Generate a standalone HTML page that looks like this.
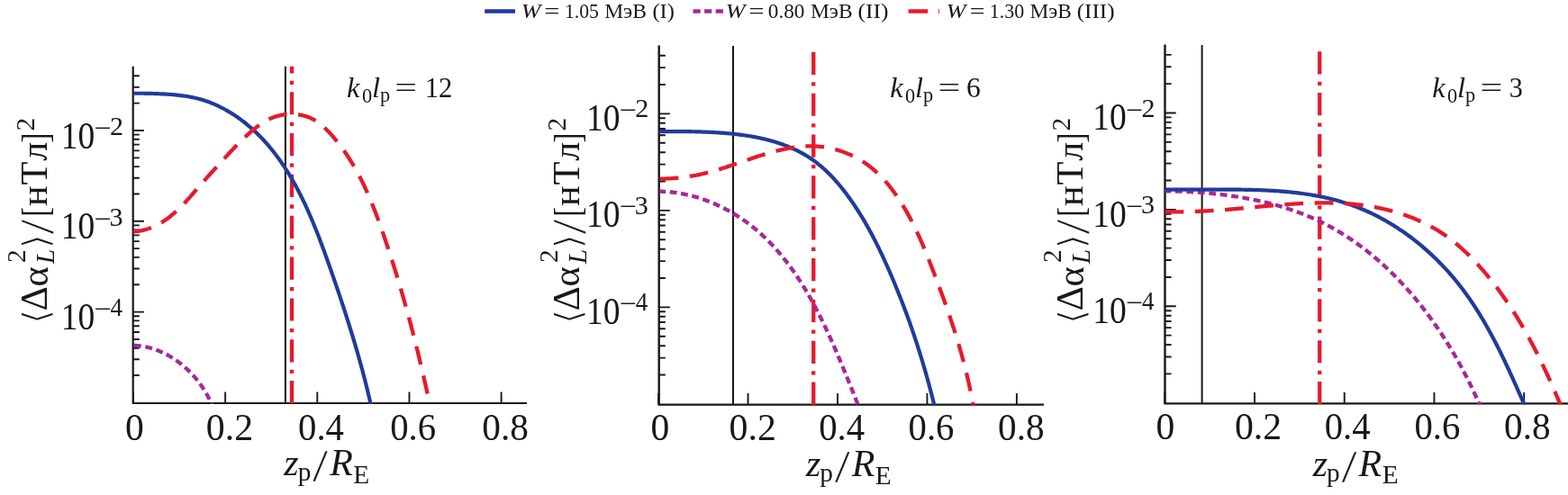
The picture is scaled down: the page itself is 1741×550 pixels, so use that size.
<!DOCTYPE html>
<html lang="ru"><head><meta charset="utf-8"><title>Figure</title>
<style>
html,body{margin:0;padding:0;background:#fff;}
body{width:1741px;height:550px;overflow:hidden;}
svg{display:block;}
text{font-family:"Liberation Serif", "DejaVu Serif", serif;fill:#1a1718;}
</style></head><body>
<svg width="1741" height="550" viewBox="0 0 1741 550">
<rect x="0" y="0" width="1741" height="550" fill="#fff"/>

<g id="legend">
<line x1="538.2" y1="12.5" x2="572" y2="12.5" stroke="#213b9b" stroke-width="4.5"/>
<line x1="769.5" y1="12.5" x2="803" y2="12.5" stroke="#a6289b" stroke-width="4.5" stroke-dasharray="8.2 4.4"/>
<line x1="1008.6" y1="12.5" x2="1030.1" y2="12.5" stroke="#e8192c" stroke-width="4.5"/>
<line x1="1042.5" y1="10" x2="1042.5" y2="15" stroke="#e8192c" stroke-width="0.9"/>
<text><tspan x="578.67" y="20.00" style="font-size:23.80px;font-style:italic;" textLength="21.71" lengthAdjust="spacingAndGlyphs">W</tspan> <tspan x="604.38" y="20.00" style="font-size:23.80px;" textLength="17.08" lengthAdjust="spacingAndGlyphs">=</tspan> <tspan x="626.90" y="20.00" style="font-size:23.80px;" textLength="37.97" lengthAdjust="spacingAndGlyphs">1.05</tspan> <tspan x="671.13" y="20.00" style="font-size:23.80px;" textLength="46.86" lengthAdjust="spacingAndGlyphs">МэВ</tspan> <tspan x="724.44" y="20.00" style="font-size:23.80px;" textLength="24.45" lengthAdjust="spacingAndGlyphs">(I)</tspan></text>
<text><tspan x="805.77" y="20.00" style="font-size:23.80px;font-style:italic;" textLength="21.71" lengthAdjust="spacingAndGlyphs">W</tspan> <tspan x="831.58" y="20.00" style="font-size:23.80px;" textLength="17.08" lengthAdjust="spacingAndGlyphs">=</tspan> <tspan x="852.77" y="20.00" style="font-size:23.80px;" textLength="40.65" lengthAdjust="spacingAndGlyphs">0.80</tspan> <tspan x="899.93" y="20.00" style="font-size:23.80px;" textLength="46.76" lengthAdjust="spacingAndGlyphs">МэВ</tspan> <tspan x="952.50" y="20.00" style="font-size:23.80px;" textLength="33.92" lengthAdjust="spacingAndGlyphs">(II)</tspan></text>
<text><tspan x="1050.77" y="20.00" style="font-size:23.80px;font-style:italic;" textLength="21.71" lengthAdjust="spacingAndGlyphs">W</tspan> <tspan x="1076.71" y="20.00" style="font-size:23.80px;" textLength="16.72" lengthAdjust="spacingAndGlyphs">=</tspan> <tspan x="1098.79" y="20.00" style="font-size:23.80px;" textLength="38.40" lengthAdjust="spacingAndGlyphs">1.30</tspan> <tspan x="1143.43" y="20.00" style="font-size:23.80px;" textLength="46.45" lengthAdjust="spacingAndGlyphs">МэВ</tspan> <tspan x="1195.71" y="20.00" style="font-size:23.80px;" textLength="41.90" lengthAdjust="spacingAndGlyphs">(III)</tspan></text>
</g>
<g id="panel1">
<defs><clipPath id="clip0"><rect x="144.7" y="73.80" width="443.30" height="375.30"/></clipPath></defs>
<path d="M147.7,73.8 V448.0 H585.0" fill="none" stroke="#1a1718" stroke-width="2.2" stroke-linecap="butt" stroke-linejoin="miter"/>
<path d="M148.00,448.0 v-12.5 M250.15,448.0 v-12.5 M352.30,448.0 v-12.5 M454.45,448.0 v-12.5 M556.60,448.0 v-12.5 M147.7,417.06 h7.1 M147.7,399.31 h7.1 M147.7,386.71 h7.1 M147.7,376.94 h7.1 M147.7,368.96 h7.1 M147.7,362.21 h7.1 M147.7,356.37 h7.1 M147.7,351.21 h7.1 M147.7,346.60 h12.2 M147.7,316.26 h7.1 M147.7,298.51 h7.1 M147.7,285.91 h7.1 M147.7,276.14 h7.1 M147.7,268.16 h7.1 M147.7,261.41 h7.1 M147.7,255.57 h7.1 M147.7,250.41 h7.1 M147.7,245.80 h12.2 M147.7,215.46 h7.1 M147.7,197.71 h7.1 M147.7,185.11 h7.1 M147.7,175.34 h7.1 M147.7,167.36 h7.1 M147.7,160.61 h7.1 M147.7,154.77 h7.1 M147.7,149.61 h7.1 M147.7,145.00 h12.2 M147.7,114.66 h7.1 M147.7,96.91 h7.1 M147.7,84.31 h7.1" fill="none" stroke="#1a1718" stroke-width="1.9"/>
<line x1="316.9" y1="73.8" x2="316.9" y2="448.0" stroke="#1a1718" stroke-width="2"/>
<g clip-path="url(#clip0)" fill="none" stroke-linejoin="round">
<line x1="324.0" y1="56.3" x2="324.0" y2="451.0" stroke="#e8192c" stroke-width="4.3" stroke-dasharray="25.2 8.3 4.3 8.05"/>
<path d="M148.00,383.88 L148.37,383.89 L148.74,383.90 L149.11,383.91 L149.48,383.93 L149.84,383.94 L150.21,383.96 L150.58,383.98 L150.95,384.00 L151.31,384.02 L151.68,384.05 L152.05,384.07 L152.42,384.10 L152.78,384.13 L153.15,384.16 L153.52,384.19 L153.88,384.23 L154.25,384.27 L154.62,384.30 L154.98,384.34 L155.35,384.39 L155.72,384.43 L156.08,384.48 L156.45,384.52 L156.81,384.57 L157.18,384.62 L157.54,384.68 L157.91,384.73 L158.27,384.79 L158.63,384.84 L159.00,384.90 L159.36,384.96 L159.73,385.03 L160.09,385.09 L160.45,385.16 L160.81,385.23 L161.18,385.30 L161.54,385.37 L161.90,385.44 L162.26,385.52 L162.62,385.60 L162.98,385.67 L163.34,385.75 L163.70,385.84 L164.06,385.92 L164.42,386.01 L164.78,386.09 L165.14,386.18 L165.50,386.27 L165.86,386.37 L166.22,386.46 L166.57,386.55 L166.93,386.65 L167.29,386.75 L167.65,386.85 L168.00,386.95 L168.36,387.06 L168.71,387.16 L169.07,387.27 L169.42,387.38 L169.78,387.49 L170.13,387.60 L170.48,387.72 L170.84,387.83 L171.19,387.95 L171.54,388.07 L171.90,388.19 L172.25,388.31 L172.60,388.43 L172.95,388.56 L173.30,388.68 L173.65,388.81 L174.00,388.94 L174.35,389.07 L174.70,389.20 L175.04,389.34 L175.39,389.47 L175.74,389.61 L176.09,389.75 L176.43,389.89 L176.78,390.03 L177.12,390.17 L177.47,390.32 L177.81,390.46 L178.16,390.61 L178.50,390.76 L178.84,390.91 L179.19,391.06 L179.53,391.21 L179.87,391.37 L180.21,391.53 L180.55,391.68 L180.89,391.84 L181.23,392.00 L181.57,392.17 L181.91,392.33 L182.25,392.49 L182.59,392.66 L182.92,392.83 L183.26,393.00 L183.59,393.17 L183.93,393.34 L184.27,393.51 L184.60,393.69 L184.93,393.86 L185.27,394.04 L185.60,394.22 L185.93,394.40 L186.26,394.58 L186.59,394.76 L186.92,394.95 L187.25,395.13 L187.58,395.32 L187.91,395.51 L188.24,395.70 L188.57,395.89 L188.89,396.08 L189.22,396.28 L189.54,396.47 L189.87,396.67 L190.19,396.86 L190.52,397.06 L190.84,397.26 L191.16,397.46 L191.48,397.66 L191.81,397.87 L192.13,398.07 L192.45,398.28 L192.76,398.49 L193.08,398.70 L193.40,398.91 L193.72,399.12 L194.03,399.33 L194.35,399.54 L194.67,399.76 L194.98,399.97 L195.29,400.19 L195.61,400.41 L195.92,400.63 L196.23,400.85 L196.54,401.07 L196.85,401.29 L197.16,401.52 L197.47,401.74 L197.78,401.97 L198.09,402.20 L198.39,402.43 L198.70,402.66 L199.00,402.89 L199.31,403.12 L199.61,403.35 L199.91,403.59 L200.22,403.82 L200.52,404.06 L200.82,404.30 L201.12,404.53 L201.42,404.77 L201.72,405.02 L202.01,405.26 L202.31,405.50 L202.61,405.75 L202.90,405.99 L203.20,406.24 L203.49,406.48 L203.78,406.73 L204.07,406.98 L204.37,407.23 L204.66,407.48 L204.95,407.74 L205.23,407.99 L205.52,408.24 L205.81,408.50 L206.10,408.76 L206.38,409.01 L206.67,409.27 L206.95,409.53 L207.23,409.79 L207.52,410.05 L207.80,410.32 L208.08,410.58 L208.36,410.84 L208.63,411.11 L208.91,411.38 L209.19,411.64 L209.47,411.91 L209.74,412.18 L210.01,412.45 L210.29,412.72 L210.56,412.99 L210.83,413.27 L211.10,413.54 L211.37,413.81 L211.64,414.09 L211.91,414.37 L212.18,414.64 L212.44,414.92 L212.71,415.20 L212.97,415.48 L213.23,415.76 L213.50,416.04 L213.76,416.32 L214.02,416.61 L214.28,416.89 L214.54,417.18 L214.79,417.46 L215.05,417.75 L215.31,418.03 L215.56,418.32 L215.81,418.61 L216.07,418.90 L216.32,419.19 L216.57,419.48 L216.82,419.77 L217.07,420.07 L217.31,420.36 L217.56,420.66 L217.81,420.95 L218.05,421.25 L218.29,421.54 L218.54,421.84 L218.78,422.14 L219.02,422.44 L219.26,422.74 L219.50,423.04 L219.73,423.34 L219.97,423.64 L220.21,423.94 L220.44,424.24 L220.67,424.55 L220.90,424.85 L221.14,425.16 L221.37,425.46 L221.59,425.77 L221.82,426.08 L222.05,426.39 L222.27,426.69 L222.50,427.00 L222.72,427.31 L222.94,427.62 L223.17,427.93 L223.39,428.25 L223.60,428.56 L223.82,428.87 L224.04,429.18 L224.25,429.50 L224.47,429.81 L224.68,430.13 L224.89,430.44 L225.11,430.76 L225.32,431.08 L225.52,431.39 L225.73,431.71 L225.94,432.03 L226.14,432.35 L226.35,432.67 L226.55,432.99 L226.75,433.31 L226.95,433.63 L227.15,433.95 L227.35,434.28 L227.55,434.60 L227.74,434.92 L227.94,435.25 L228.13,435.57 L228.32,435.90 L228.51,436.22 L228.70,436.55 L228.89,436.87 L229.08,437.20 L229.27,437.53 L229.45,437.86 L229.63,438.18 L229.82,438.51 L230.00,438.84 L230.18,439.17 L230.36,439.50 L230.53,439.83 L230.71,440.16 L230.88,440.49 L231.06,440.83 L231.23,441.16 L231.40,441.49 L231.57,441.82 L231.74,442.16 L231.91,442.49 L232.07,442.82 L232.24,443.16 L232.40,443.49 L232.56,443.83 L232.72,444.16 L232.88,444.50 L233.04,444.84 L233.20,445.17 L233.35,445.51 L233.51,445.85 L233.66,446.18 L233.81,446.52 L233.96,446.86 L234.11,447.20 L234.26,447.54 L236.65,453.04" stroke="#a6289b" stroke-width="4.3" stroke-dasharray="7.9 4.6" stroke-dashoffset="-0.89"/>
<path d="M147.97,103.74 L149.57,103.73 L151.17,103.73 L152.78,103.73 L154.38,103.73 L155.98,103.74 L157.58,103.75 L159.19,103.77 L160.79,103.79 L162.40,103.81 L164.00,103.84 L165.61,103.88 L167.21,103.92 L168.82,103.96 L170.42,104.01 L172.03,104.06 L173.64,104.11 L175.24,104.17 L176.85,104.24 L178.46,104.31 L180.07,104.38 L181.68,104.47 L183.28,104.55 L184.89,104.65 L186.50,104.75 L188.10,104.86 L189.71,104.98 L191.31,105.11 L192.91,105.25 L194.51,105.39 L196.10,105.55 L197.70,105.72 L199.29,105.90 L200.88,106.10 L202.47,106.30 L204.05,106.52 L205.63,106.76 L207.21,107.00 L208.78,107.27 L210.35,107.55 L211.91,107.84 L213.48,108.15 L215.03,108.48 L216.58,108.82 L218.13,109.18 L219.67,109.57 L221.21,109.97 L222.74,110.39 L224.26,110.83 L225.78,111.29 L227.29,111.77 L228.80,112.27 L230.30,112.79 L231.79,113.33 L233.28,113.89 L234.76,114.47 L236.23,115.07 L237.70,115.69 L239.16,116.33 L240.61,116.98 L242.05,117.65 L243.49,118.34 L244.92,119.05 L246.34,119.77 L247.76,120.51 L249.16,121.26 L250.56,122.03 L251.95,122.82 L253.33,123.62 L254.70,124.44 L256.07,125.27 L257.42,126.11 L258.77,126.97 L260.11,127.85 L261.44,128.73 L262.76,129.63 L264.07,130.54 L265.37,131.47 L266.66,132.40 L267.94,133.35 L269.21,134.31 L270.47,135.28 L271.73,136.26 L272.97,137.25 L274.20,138.26 L275.42,139.27 L276.63,140.29 L277.83,141.32 L279.02,142.36 L280.20,143.41 L281.37,144.47 L282.53,145.54 L283.68,146.62 L284.82,147.70 L285.95,148.80 L287.08,149.90 L288.19,151.02 L289.29,152.14 L290.38,153.27 L291.46,154.41 L292.54,155.56 L293.60,156.71 L294.66,157.88 L295.71,159.05 L296.74,160.23 L297.77,161.42 L298.79,162.62 L299.80,163.82 L300.80,165.03 L301.80,166.25 L302.78,167.48 L303.76,168.71 L304.73,169.96 L305.69,171.20 L306.64,172.46 L307.58,173.72 L308.52,174.99 L309.45,176.27 L310.37,177.55 L311.28,178.84 L312.18,180.14 L313.08,181.44 L313.97,182.75 L314.85,184.07 L315.73,185.39 L316.59,186.72 L317.45,188.05 L318.30,189.39 L319.15,190.74 L319.99,192.09 L320.82,193.44 L321.64,194.81 L322.46,196.17 L323.27,197.55 L324.07,198.93 L324.87,200.31 L325.66,201.70 L326.45,203.09 L327.22,204.49 L328.00,205.89 L328.76,207.30 L329.52,208.71 L330.27,210.13 L331.02,211.55 L331.76,212.98 L332.50,214.41 L333.23,215.84 L333.95,217.28 L334.67,218.72 L335.38,220.16 L336.09,221.61 L336.79,223.07 L337.49,224.52 L338.18,225.98 L338.87,227.45 L339.55,228.91 L340.22,230.38 L340.90,231.86 L341.56,233.33 L342.22,234.81 L342.88,236.29 L343.53,237.78 L344.18,239.26 L344.82,240.75 L345.46,242.24 L346.10,243.74 L346.73,245.23 L347.36,246.73 L347.98,248.23 L348.60,249.73 L349.21,251.24 L349.82,252.74 L350.43,254.25 L351.03,255.76 L351.63,257.27 L352.23,258.78 L352.82,260.30 L353.41,261.81 L354.00,263.33 L354.58,264.84 L355.16,266.36 L355.74,267.88 L356.31,269.40 L356.88,270.92 L357.45,272.44 L358.01,273.96 L358.57,275.48 L359.13,277.00 L359.69,278.52 L360.25,280.05 L360.80,281.57 L361.35,283.09 L361.90,284.61 L362.44,286.13 L362.99,287.65 L363.53,289.17 L364.07,290.69 L364.60,292.21 L365.14,293.73 L365.67,295.25 L366.21,296.76 L366.74,298.28 L367.27,299.79 L367.80,301.31 L368.32,302.82 L368.85,304.33 L369.37,305.84 L369.90,307.34 L370.42,308.85 L370.94,310.36 L371.46,311.86 L371.97,313.37 L372.49,314.87 L373.01,316.37 L373.52,317.87 L374.03,319.37 L374.54,320.87 L375.05,322.37 L375.56,323.87 L376.06,325.37 L376.57,326.87 L377.07,328.36 L377.57,329.86 L378.07,331.36 L378.57,332.85 L379.07,334.35 L379.56,335.84 L380.06,337.34 L380.55,338.83 L381.04,340.33 L381.53,341.82 L382.02,343.32 L382.51,344.81 L382.99,346.31 L383.48,347.80 L383.96,349.30 L384.44,350.79 L384.92,352.29 L385.40,353.78 L385.87,355.28 L386.35,356.77 L386.82,358.27 L387.29,359.77 L387.76,361.27 L388.23,362.77 L388.69,364.26 L389.16,365.76 L389.62,367.27 L390.08,368.77 L390.54,370.27 L391.00,371.77 L391.45,373.28 L391.91,374.78 L392.36,376.29 L392.81,377.79 L393.26,379.30 L393.71,380.81 L394.16,382.32 L394.60,383.83 L395.04,385.34 L395.48,386.86 L395.92,388.37 L396.36,389.89 L396.80,391.41 L397.23,392.93 L397.66,394.45 L398.09,395.97 L398.52,397.50 L398.95,399.03 L399.37,400.55 L399.80,402.08 L400.22,403.62 L400.64,405.15 L401.06,406.68 L401.47,408.22 L401.89,409.76 L402.30,411.30 L402.71,412.85 L403.12,414.39 L403.53,415.94 L403.93,417.49 L404.33,419.04 L404.74,420.60 L405.13,422.16 L405.53,423.72 L405.93,425.28 L406.32,426.84 L406.71,428.41 L407.10,429.98 L407.49,431.55 L407.88,433.13 L408.26,434.71 L408.64,436.29 L409.02,437.87 L409.40,439.46 L409.78,441.05 L410.15,442.64 L410.52,444.24 L410.89,445.84 L411.26,447.44 L412.61,453.29" stroke="#213b9b" stroke-width="4.2"/>
<path d="M147.99,257.31 L149.92,257.20 L151.86,257.02 L153.79,256.77 L155.72,256.46 L157.64,256.08 L159.55,255.63 L161.46,255.13 L163.35,254.56 L165.22,253.94 L167.09,253.26 L168.93,252.53 L170.75,251.75 L172.56,250.92 L174.34,250.04 L176.09,249.11 L177.82,248.13 L179.53,247.12 L181.21,246.06 L182.86,244.97 L184.50,243.83 L186.11,242.66 L187.71,241.45 L189.28,240.22 L190.83,238.95 L192.37,237.65 L193.89,236.32 L195.39,234.97 L196.87,233.59 L198.34,232.19 L199.79,230.77 L201.23,229.33 L202.66,227.88 L204.07,226.40 L205.48,224.92 L206.87,223.42 L208.25,221.90 L209.62,220.38 L210.98,218.86 L212.34,217.32 L213.68,215.79 L215.02,214.25 L216.36,212.71 L217.69,211.17 L219.01,209.63 L220.33,208.10 L221.65,206.57 L222.97,205.05 L224.29,203.54 L225.60,202.05 L226.92,200.56 L228.23,199.08 L229.55,197.62 L230.86,196.16 L232.18,194.70 L233.49,193.25 L234.81,191.81 L236.12,190.36 L237.43,188.91 L238.75,187.46 L240.06,186.01 L241.38,184.56 L242.69,183.10 L244.01,181.65 L245.33,180.19 L246.65,178.74 L247.98,177.29 L249.30,175.83 L250.64,174.38 L251.98,172.93 L253.32,171.48 L254.67,170.03 L256.03,168.59 L257.39,167.15 L258.76,165.71 L260.14,164.27 L261.53,162.84 L262.92,161.42 L264.33,159.99 L265.74,158.57 L267.17,157.16 L268.60,155.75 L270.05,154.35 L271.51,152.96 L272.99,151.57 L274.47,150.19 L275.97,148.81 L277.49,147.45 L279.02,146.09 L280.57,144.76 L282.13,143.44 L283.71,142.16 L285.31,140.90 L286.93,139.67 L288.58,138.48 L290.24,137.33 L291.93,136.22 L293.64,135.16 L295.38,134.15 L297.15,133.20 L298.94,132.31 L300.76,131.48 L302.60,130.72 L304.48,130.02 L306.37,129.39 L308.29,128.83 L310.23,128.34 L312.18,127.91 L314.14,127.56 L316.11,127.27 L318.09,127.05 L320.08,126.89 L322.06,126.81 L324.05,126.80 L326.03,126.86 L328.01,126.98 L329.98,127.18 L331.94,127.45 L333.89,127.79 L335.81,128.20 L337.72,128.69 L339.61,129.24 L341.48,129.87 L343.32,130.57 L345.12,131.34 L346.90,132.19 L348.64,133.11 L350.35,134.10 L352.01,135.17 L353.64,136.30 L355.24,137.49 L356.80,138.74 L358.33,140.04 L359.84,141.38 L361.31,142.77 L362.75,144.20 L364.17,145.65 L365.57,147.13 L366.95,148.63 L368.30,150.15 L369.64,151.68 L370.95,153.22 L372.25,154.77 L373.53,156.34 L374.79,157.91 L376.04,159.49 L377.26,161.08 L378.47,162.68 L379.67,164.29 L380.84,165.91 L382.00,167.54 L383.15,169.18 L384.28,170.83 L385.39,172.48 L386.48,174.15 L387.57,175.82 L388.63,177.50 L389.68,179.19 L390.72,180.89 L391.75,182.60 L392.76,184.31 L393.75,186.03 L394.73,187.76 L395.70,189.49 L396.66,191.23 L397.60,192.98 L398.54,194.74 L399.45,196.50 L400.36,198.27 L401.26,200.04 L402.14,201.82 L403.01,203.61 L403.88,205.40 L404.73,207.20 L405.57,209.00 L406.40,210.81 L407.22,212.62 L408.03,214.44 L408.83,216.27 L409.63,218.09 L410.41,219.93 L411.19,221.76 L411.95,223.60 L412.71,225.45 L413.46,227.30 L414.21,229.15 L414.94,231.00 L415.67,232.86 L416.39,234.72 L417.11,236.59 L417.82,238.46 L418.52,240.33 L419.21,242.20 L419.90,244.07 L420.59,245.95 L421.27,247.83 L421.95,249.71 L422.62,251.60 L423.28,253.48 L423.94,255.37 L424.60,257.25 L425.26,259.14 L425.91,261.03 L426.56,262.92 L427.20,264.81 L427.84,266.71 L428.48,268.60 L429.12,270.49 L429.75,272.38 L430.38,274.28 L431.01,276.17 L431.63,278.07 L432.25,279.96 L432.87,281.86 L433.49,283.76 L434.10,285.65 L434.71,287.55 L435.32,289.45 L435.93,291.35 L436.53,293.25 L437.13,295.15 L437.72,297.06 L438.32,298.96 L438.91,300.86 L439.50,302.76 L440.08,304.67 L440.66,306.57 L441.24,308.48 L441.82,310.38 L442.40,312.29 L442.97,314.20 L443.54,316.11 L444.11,318.02 L444.67,319.93 L445.23,321.84 L445.79,323.75 L446.35,325.66 L446.90,327.57 L447.45,329.48 L448.00,331.40 L448.55,333.31 L449.09,335.22 L449.63,337.14 L450.17,339.06 L450.71,340.97 L451.24,342.89 L451.78,344.81 L452.31,346.73 L452.83,348.65 L453.36,350.57 L453.88,352.49 L454.40,354.41 L454.92,356.33 L455.43,358.25 L455.94,360.17 L456.45,362.10 L456.96,364.02 L457.47,365.95 L457.97,367.87 L458.47,369.80 L458.97,371.73 L459.47,373.66 L459.96,375.58 L460.45,377.51 L460.94,379.44 L461.43,381.37 L461.92,383.30 L462.40,385.24 L462.88,387.17 L463.36,389.10 L463.84,391.04 L464.31,392.97 L464.78,394.91 L465.25,396.84 L465.72,398.78 L466.19,400.71 L466.65,402.65 L467.11,404.59 L467.57,406.53 L468.03,408.47 L468.49,410.41 L468.94,412.35 L469.39,414.29 L469.84,416.24 L470.29,418.18 L470.74,420.12 L471.18,422.07 L471.62,424.01 L472.06,425.96 L472.50,427.91 L472.94,429.85 L473.37,431.80 L473.81,433.75 L474.24,435.70 L474.67,437.65 L475.09,439.60 L475.52,441.55 L475.94,443.50 L476.36,445.45 L476.78,447.41 L478.04,453.27" stroke="#e8192c" stroke-width="4.3" stroke-dasharray="20.8 12.5" stroke-dashoffset="-33.01"/>
</g>
<text><tspan x="139.00" y="489.00" style="font-size:41.50px;" textLength="20.80" lengthAdjust="spacingAndGlyphs">0</tspan></text>
<text><tspan x="228.84" y="489.00" style="font-size:41.50px;" textLength="52.27" lengthAdjust="spacingAndGlyphs">0.2</tspan></text>
<text><tspan x="331.03" y="489.00" style="font-size:41.50px;" textLength="50.91" lengthAdjust="spacingAndGlyphs">0.4</tspan></text>
<text><tspan x="433.18" y="489.00" style="font-size:41.50px;" textLength="50.91" lengthAdjust="spacingAndGlyphs">0.6</tspan></text>
<text><tspan x="535.31" y="489.00" style="font-size:41.50px;" textLength="51.58" lengthAdjust="spacingAndGlyphs">0.8</tspan></text>
<text><tspan x="67.87" y="164.60" style="font-size:41.50px;" textLength="37.50" lengthAdjust="spacingAndGlyphs">10</tspan><tspan x="104.51" y="151.70" style="font-size:29.30px;" textLength="19.13" lengthAdjust="spacingAndGlyphs">−</tspan><tspan x="122.06" y="149.80" style="font-size:29.30px;" textLength="15.05" lengthAdjust="spacingAndGlyphs">2</tspan></text>
<text><tspan x="67.87" y="265.40" style="font-size:41.50px;" textLength="37.50" lengthAdjust="spacingAndGlyphs">10</tspan><tspan x="104.51" y="252.50" style="font-size:29.30px;" textLength="19.13" lengthAdjust="spacingAndGlyphs">−</tspan><tspan x="121.59" y="250.60" style="font-size:29.30px;" textLength="15.05" lengthAdjust="spacingAndGlyphs">3</tspan></text>
<text><tspan x="67.87" y="366.20" style="font-size:41.50px;" textLength="37.50" lengthAdjust="spacingAndGlyphs">10</tspan><tspan x="104.51" y="353.30" style="font-size:29.30px;" textLength="19.13" lengthAdjust="spacingAndGlyphs">−</tspan><tspan x="122.58" y="351.40" style="font-size:29.30px;" textLength="13.55" lengthAdjust="spacingAndGlyphs">4</tspan></text>
<text transform="rotate(-90)"><tspan x="-359.97" y="53.97" style="font-size:40.06px;font-family:"DejaVu Sans", "DejaVu Serif", sans-serif;" textLength="16.31" lengthAdjust="spacingAndGlyphs" stroke="#fff" stroke-width="1.1">⟨</tspan><tspan x="-345.32" y="52.10" style="font-size:42.30px;">Δ</tspan><tspan x="-318.42" y="52.50" style="font-size:42.30px;">α</tspan><tspan x="-291.92" y="27.80" style="font-size:29.30px;">2</tspan><tspan x="-293.34" y="59.60" style="font-size:29.30px;font-style:italic;">L</tspan><tspan x="-276.40" y="53.97" style="font-size:40.06px;font-family:"DejaVu Sans", "DejaVu Serif", sans-serif;" textLength="16.48" lengthAdjust="spacingAndGlyphs" stroke="#fff" stroke-width="1.1">⟩</tspan><tspan x="-260.30" y="58.79" style="font-size:51.78px;" textLength="16.60" lengthAdjust="spacingAndGlyphs" stroke="#fff" stroke-width="0.5">/</tspan><tspan x="-240.45" y="53.08" style="font-size:41.36px;" textLength="10.37" lengthAdjust="spacingAndGlyphs">[</tspan><tspan x="-228.96" y="52.10" style="font-size:42.30px;">н</tspan><tspan x="-205.56" y="52.10" style="font-size:42.30px;">Т</tspan><tspan x="-178.70" y="52.10" style="font-size:42.30px;">л</tspan><tspan x="-158.67" y="53.08" style="font-size:41.36px;" textLength="11.37" lengthAdjust="spacingAndGlyphs">]</tspan><tspan x="-145.42" y="37.50" style="font-size:29.30px;">2</tspan></text>
<text><tspan x="315.36" y="528.20" style="font-size:42.00px;font-style:italic;">z</tspan><tspan x="330.64" y="534.20" style="font-size:29.30px;">p</tspan><tspan x="347.10" y="534.49" style="font-size:51.64px;" textLength="17.09" lengthAdjust="spacingAndGlyphs" stroke="#fff" stroke-width="0.5">/</tspan><tspan x="366.16" y="528.20" style="font-size:42.00px;font-style:italic;">R</tspan><tspan x="392.24" y="536.90" style="font-size:29.30px;">E</tspan></text>
<text><tspan x="385.09" y="107.80" style="font-size:32.50px;font-style:italic;">k</tspan><tspan x="402.00" y="114.20" style="font-size:22.30px;">0</tspan><tspan x="412.98" y="107.80" style="font-size:32.50px;font-style:italic;">l</tspan><tspan x="421.95" y="112.60" style="font-size:22.30px;">p</tspan> <tspan x="438.34" y="107.80" style="font-size:32.50px;" textLength="24.78" lengthAdjust="spacingAndGlyphs">=</tspan> <tspan x="471.71" y="107.80" style="font-size:32.50px;" textLength="30.63" lengthAdjust="spacingAndGlyphs">12</tspan></text>
</g>
<g id="panel2">
<defs><clipPath id="clip1"><rect x="728.7" y="50.50" width="433.30" height="400.30"/></clipPath></defs>
<path d="M731.7,50.5 V449.6 H1159.0" fill="none" stroke="#1a1718" stroke-width="2.4" stroke-linecap="butt" stroke-linejoin="miter"/>
<path d="M731.10,449.6 v-12.5 M830.55,449.6 v-12.5 M930.00,449.6 v-12.5 M1029.45,449.6 v-12.5 M1128.90,449.6 v-12.5 M731.7,416.54 h7.1 M731.7,397.61 h7.1 M731.7,384.18 h7.1 M731.7,373.76 h7.1 M731.7,365.25 h7.1 M731.7,358.05 h7.1 M731.7,351.82 h7.1 M731.7,346.32 h7.1 M731.7,341.40 h12.2 M731.7,309.04 h7.1 M731.7,290.11 h7.1 M731.7,276.68 h7.1 M731.7,266.26 h7.1 M731.7,257.75 h7.1 M731.7,250.55 h7.1 M731.7,244.32 h7.1 M731.7,238.82 h7.1 M731.7,233.90 h12.2 M731.7,201.54 h7.1 M731.7,182.61 h7.1 M731.7,169.18 h7.1 M731.7,158.76 h7.1 M731.7,150.25 h7.1 M731.7,143.05 h7.1 M731.7,136.82 h7.1 M731.7,131.32 h7.1 M731.7,126.40 h12.2 M731.7,94.04 h7.1 M731.7,75.11 h7.1 M731.7,61.68 h7.1" fill="none" stroke="#1a1718" stroke-width="1.9"/>
<line x1="814.0" y1="51.0" x2="814.0" y2="449.6" stroke="#1a1718" stroke-width="2"/>
<g clip-path="url(#clip1)" fill="none" stroke-linejoin="round">
<line x1="903.25" y1="57.8" x2="903.25" y2="452.6" stroke="#e8192c" stroke-width="4.3" stroke-dasharray="25.2 8.3 4.3 8.05"/>
<path d="M732.07,212.66 L733.22,212.68 L734.36,212.71 L735.50,212.75 L736.64,212.79 L737.78,212.85 L738.92,212.91 L740.06,212.98 L741.20,213.07 L742.33,213.16 L743.47,213.26 L744.61,213.37 L745.74,213.49 L746.88,213.61 L748.01,213.75 L749.15,213.89 L750.28,214.05 L751.41,214.21 L752.54,214.38 L753.67,214.56 L754.80,214.74 L755.92,214.94 L757.05,215.15 L758.17,215.36 L759.30,215.58 L760.42,215.81 L761.54,216.05 L762.65,216.29 L763.77,216.55 L764.89,216.81 L766.00,217.08 L767.11,217.36 L768.22,217.64 L769.33,217.94 L770.44,218.24 L771.54,218.55 L772.64,218.87 L773.75,219.19 L774.84,219.53 L775.94,219.87 L777.04,220.22 L778.13,220.57 L779.22,220.93 L780.31,221.30 L781.39,221.68 L782.48,222.07 L783.56,222.46 L784.64,222.86 L785.71,223.27 L786.79,223.68 L787.86,224.10 L788.92,224.53 L789.99,224.97 L791.05,225.41 L792.11,225.86 L793.17,226.32 L794.23,226.78 L795.28,227.25 L796.33,227.73 L797.37,228.21 L798.41,228.70 L799.45,229.20 L800.49,229.70 L801.52,230.21 L802.55,230.73 L803.58,231.25 L804.60,231.78 L805.62,232.31 L806.64,232.86 L807.65,233.40 L808.66,233.96 L809.67,234.52 L810.67,235.08 L811.67,235.66 L812.67,236.23 L813.66,236.82 L814.64,237.41 L815.63,238.01 L816.61,238.61 L817.58,239.21 L818.56,239.83 L819.52,240.45 L820.49,241.07 L821.45,241.70 L822.40,242.34 L823.35,242.98 L824.30,243.63 L825.24,244.28 L826.18,244.93 L827.12,245.60 L828.05,246.27 L828.97,246.94 L829.89,247.62 L830.81,248.30 L831.72,248.99 L832.62,249.68 L833.53,250.38 L834.42,251.08 L835.32,251.79 L836.21,252.51 L837.09,253.22 L837.97,253.95 L838.84,254.67 L839.72,255.41 L840.58,256.14 L841.44,256.89 L842.30,257.63 L843.16,258.38 L844.01,259.14 L844.85,259.90 L845.69,260.67 L846.53,261.43 L847.36,262.21 L848.19,262.99 L849.01,263.77 L849.83,264.56 L850.65,265.35 L851.46,266.14 L852.27,266.94 L853.07,267.75 L853.87,268.56 L854.67,269.37 L855.46,270.19 L856.24,271.01 L857.03,271.83 L857.81,272.66 L858.58,273.49 L859.35,274.33 L860.12,275.17 L860.89,276.02 L861.65,276.86 L862.40,277.72 L863.16,278.57 L863.90,279.43 L864.65,280.30 L865.39,281.16 L866.13,282.03 L866.86,282.91 L867.59,283.79 L868.32,284.67 L869.04,285.55 L869.76,286.44 L870.48,287.34 L871.19,288.23 L871.90,289.13 L872.60,290.03 L873.31,290.94 L874.00,291.85 L874.70,292.76 L875.39,293.67 L876.08,294.59 L876.76,295.51 L877.44,296.44 L878.12,297.37 L878.80,298.30 L879.47,299.23 L880.13,300.17 L880.80,301.11 L881.46,302.05 L882.12,303.00 L882.77,303.94 L883.43,304.90 L884.07,305.85 L884.72,306.81 L885.36,307.77 L886.00,308.73 L886.64,309.69 L887.27,310.66 L887.90,311.63 L888.53,312.60 L889.15,313.58 L889.77,314.56 L890.39,315.53 L891.00,316.52 L891.62,317.50 L892.22,318.49 L892.83,319.48 L893.43,320.47 L894.03,321.46 L894.63,322.46 L895.23,323.46 L895.82,324.46 L896.41,325.46 L897.00,326.46 L897.58,327.47 L898.16,328.48 L898.74,329.49 L899.32,330.50 L899.89,331.52 L900.46,332.53 L901.03,333.55 L901.59,334.57 L902.16,335.59 L902.72,336.61 L903.27,337.64 L903.83,338.67 L904.38,339.69 L904.93,340.72 L905.48,341.75 L906.03,342.79 L906.57,343.82 L907.11,344.86 L907.65,345.89 L908.19,346.93 L908.72,347.97 L909.25,349.01 L909.78,350.06 L910.31,351.10 L910.83,352.14 L911.36,353.19 L911.88,354.24 L912.39,355.29 L912.91,356.34 L913.43,357.39 L913.94,358.44 L914.45,359.49 L914.96,360.54 L915.46,361.60 L915.97,362.65 L916.47,363.71 L916.97,364.77 L917.47,365.82 L917.96,366.88 L918.46,367.94 L918.95,369.00 L919.44,370.06 L919.93,371.12 L920.41,372.18 L920.90,373.25 L921.38,374.31 L921.86,375.37 L922.34,376.44 L922.82,377.50 L923.30,378.56 L923.77,379.63 L924.24,380.69 L924.71,381.76 L925.18,382.82 L925.65,383.89 L926.12,384.96 L926.58,386.02 L927.05,387.09 L927.51,388.15 L927.97,389.22 L928.43,390.29 L928.89,391.35 L929.34,392.42 L929.80,393.48 L930.25,394.55 L930.70,395.62 L931.15,396.68 L931.60,397.75 L932.05,398.81 L932.49,399.88 L932.94,400.94 L933.38,402.00 L933.83,403.07 L934.27,404.13 L934.71,405.19 L935.15,406.25 L935.59,407.32 L936.02,408.38 L936.46,409.44 L936.89,410.50 L937.33,411.56 L937.76,412.61 L938.19,413.67 L938.62,414.73 L939.05,415.78 L939.48,416.84 L939.91,417.89 L940.33,418.95 L940.76,420.00 L941.18,421.05 L941.61,422.10 L942.03,423.15 L942.45,424.20 L942.88,425.24 L943.30,426.29 L943.72,427.34 L944.14,428.38 L944.56,429.42 L944.97,430.46 L945.39,431.50 L945.81,432.54 L946.22,433.58 L946.64,434.61 L947.05,435.65 L947.47,436.68 L947.88,437.71 L948.30,438.74 L948.71,439.77 L949.12,440.79 L949.53,441.82 L949.94,442.84 L950.36,443.86 L950.77,444.88 L951.18,445.90 L951.59,446.91 L952.00,447.93 L954.24,453.49" stroke="#a6289b" stroke-width="4.3" stroke-dasharray="7.9 4.6" stroke-dashoffset="-11.65"/>
<path d="M731.94,146.18 L733.54,146.16 L735.15,146.14 L736.75,146.12 L738.35,146.10 L739.96,146.09 L741.56,146.07 L743.17,146.06 L744.78,146.05 L746.38,146.05 L747.99,146.04 L749.60,146.04 L751.21,146.04 L752.82,146.05 L754.43,146.05 L756.04,146.06 L757.65,146.08 L759.27,146.09 L760.88,146.11 L762.50,146.13 L764.11,146.15 L765.73,146.18 L767.35,146.21 L768.97,146.24 L770.59,146.27 L772.21,146.31 L773.84,146.36 L775.46,146.40 L777.09,146.45 L778.72,146.50 L780.35,146.56 L781.98,146.62 L783.62,146.68 L785.25,146.75 L786.89,146.82 L788.52,146.90 L790.16,146.98 L791.80,147.07 L793.44,147.16 L795.08,147.25 L796.72,147.35 L798.36,147.46 L799.99,147.57 L801.63,147.69 L803.27,147.82 L804.91,147.95 L806.55,148.08 L808.19,148.23 L809.82,148.38 L811.46,148.53 L813.09,148.70 L814.72,148.87 L816.35,149.05 L817.98,149.23 L819.61,149.43 L821.23,149.63 L822.86,149.84 L824.48,150.06 L826.09,150.28 L827.71,150.52 L829.32,150.76 L830.93,151.02 L832.54,151.28 L834.14,151.55 L835.75,151.83 L837.34,152.12 L838.94,152.43 L840.53,152.74 L842.11,153.06 L843.69,153.39 L845.27,153.73 L846.84,154.09 L848.41,154.45 L849.98,154.83 L851.54,155.22 L853.09,155.62 L854.64,156.03 L856.19,156.45 L857.72,156.88 L859.26,157.33 L860.78,157.79 L862.31,158.26 L863.82,158.75 L865.33,159.24 L866.84,159.75 L868.33,160.28 L869.82,160.82 L871.31,161.37 L872.78,161.93 L874.25,162.51 L875.72,163.10 L877.17,163.71 L878.62,164.33 L880.06,164.97 L881.49,165.62 L882.92,166.29 L884.34,166.97 L885.74,167.67 L887.14,168.38 L888.54,169.11 L889.92,169.86 L891.29,170.62 L892.66,171.40 L894.02,172.19 L895.36,173.00 L896.70,173.83 L898.03,174.68 L899.35,175.54 L900.66,176.42 L901.96,177.32 L903.25,178.23 L904.52,179.17 L905.79,180.12 L907.05,181.09 L908.30,182.07 L909.54,183.07 L910.77,184.09 L911.99,185.12 L913.20,186.17 L914.39,187.23 L915.58,188.31 L916.76,189.40 L917.93,190.51 L919.10,191.63 L920.25,192.76 L921.39,193.91 L922.52,195.07 L923.65,196.24 L924.76,197.42 L925.87,198.62 L926.96,199.82 L928.05,201.04 L929.13,202.26 L930.20,203.50 L931.26,204.74 L932.31,206.00 L933.35,207.26 L934.39,208.54 L935.41,209.82 L936.43,211.10 L937.44,212.40 L938.44,213.70 L939.43,215.01 L940.42,216.33 L941.39,217.65 L942.36,218.98 L943.32,220.31 L944.27,221.65 L945.22,222.99 L946.15,224.34 L947.08,225.69 L948.00,227.04 L948.91,228.40 L949.82,229.76 L950.72,231.13 L951.61,232.50 L952.49,233.87 L953.37,235.25 L954.24,236.63 L955.10,238.01 L955.95,239.40 L956.80,240.78 L957.64,242.18 L958.48,243.57 L959.31,244.97 L960.13,246.37 L960.94,247.78 L961.75,249.19 L962.56,250.60 L963.35,252.01 L964.15,253.43 L964.93,254.85 L965.71,256.27 L966.48,257.69 L967.25,259.12 L968.02,260.55 L968.77,261.98 L969.53,263.42 L970.27,264.85 L971.01,266.29 L971.75,267.73 L972.48,269.18 L973.21,270.62 L973.93,272.07 L974.65,273.52 L975.36,274.97 L976.07,276.43 L976.78,277.88 L977.48,279.34 L978.17,280.80 L978.86,282.26 L979.55,283.72 L980.23,285.19 L980.91,286.65 L981.59,288.12 L982.26,289.59 L982.93,291.06 L983.60,292.53 L984.26,294.00 L984.92,295.47 L985.57,296.95 L986.23,298.43 L986.88,299.90 L987.52,301.38 L988.17,302.86 L988.81,304.34 L989.45,305.82 L990.08,307.30 L990.72,308.79 L991.34,310.27 L991.97,311.76 L992.60,313.24 L993.22,314.73 L993.83,316.22 L994.45,317.71 L995.06,319.20 L995.67,320.69 L996.28,322.18 L996.88,323.68 L997.48,325.17 L998.08,326.67 L998.68,328.16 L999.27,329.66 L999.86,331.16 L1000.45,332.66 L1001.03,334.16 L1001.62,335.66 L1002.19,337.16 L1002.77,338.66 L1003.34,340.17 L1003.91,341.67 L1004.48,343.18 L1005.05,344.69 L1005.61,346.20 L1006.17,347.71 L1006.73,349.22 L1007.28,350.73 L1007.83,352.24 L1008.38,353.75 L1008.92,355.27 L1009.47,356.79 L1010.01,358.30 L1010.55,359.82 L1011.08,361.34 L1011.61,362.86 L1012.14,364.38 L1012.67,365.90 L1013.19,367.42 L1013.71,368.95 L1014.23,370.47 L1014.75,372.00 L1015.26,373.52 L1015.77,375.05 L1016.28,376.58 L1016.79,378.11 L1017.29,379.64 L1017.79,381.17 L1018.29,382.71 L1018.78,384.24 L1019.27,385.77 L1019.76,387.31 L1020.25,388.85 L1020.73,390.38 L1021.21,391.92 L1021.69,393.46 L1022.17,395.00 L1022.64,396.55 L1023.11,398.09 L1023.58,399.63 L1024.05,401.18 L1024.51,402.72 L1024.97,404.27 L1025.43,405.82 L1025.88,407.37 L1026.33,408.92 L1026.78,410.47 L1027.23,412.02 L1027.68,413.58 L1028.12,415.13 L1028.56,416.68 L1028.99,418.24 L1029.43,419.80 L1029.86,421.36 L1030.29,422.92 L1030.72,424.48 L1031.14,426.04 L1031.56,427.60 L1031.98,429.16 L1032.40,430.73 L1032.81,432.29 L1033.22,433.86 L1033.63,435.43 L1034.04,436.99 L1034.44,438.56 L1034.84,440.13 L1035.24,441.71 L1035.64,443.28 L1036.03,444.85 L1036.42,446.43 L1036.81,448.00 L1038.25,453.83" stroke="#213b9b" stroke-width="4.2"/>
<path d="M732.01,198.65 L733.80,198.64 L735.58,198.62 L737.36,198.59 L739.15,198.53 L740.93,198.47 L742.71,198.39 L744.49,198.29 L746.27,198.18 L748.05,198.06 L749.82,197.92 L751.60,197.76 L753.37,197.59 L755.15,197.41 L756.92,197.21 L758.68,196.99 L760.45,196.76 L762.22,196.52 L763.98,196.26 L765.74,195.99 L767.50,195.70 L769.25,195.40 L771.00,195.08 L772.75,194.75 L774.50,194.40 L776.24,194.04 L777.98,193.66 L779.72,193.27 L781.45,192.87 L783.18,192.45 L784.91,192.02 L786.64,191.57 L788.36,191.11 L790.08,190.64 L791.79,190.16 L793.51,189.67 L795.22,189.16 L796.93,188.65 L798.64,188.13 L800.34,187.60 L802.05,187.06 L803.75,186.52 L805.46,185.97 L807.16,185.41 L808.86,184.85 L810.56,184.28 L812.26,183.70 L813.96,183.13 L815.66,182.55 L817.36,181.96 L819.06,181.38 L820.76,180.79 L822.47,180.20 L824.17,179.62 L825.87,179.03 L827.58,178.44 L829.28,177.85 L830.99,177.27 L832.70,176.69 L834.41,176.11 L836.13,175.53 L837.84,174.96 L839.56,174.39 L841.28,173.83 L843.01,173.27 L844.73,172.72 L846.46,172.18 L848.20,171.64 L849.93,171.11 L851.67,170.59 L853.42,170.08 L855.17,169.58 L856.92,169.09 L858.67,168.62 L860.42,168.15 L862.18,167.70 L863.94,167.26 L865.71,166.83 L867.47,166.42 L869.24,166.03 L871.01,165.65 L872.78,165.28 L874.55,164.94 L876.32,164.61 L878.09,164.31 L879.86,164.02 L881.64,163.75 L883.41,163.51 L885.19,163.29 L886.96,163.08 L888.73,162.91 L890.50,162.75 L892.28,162.62 L894.05,162.52 L895.82,162.44 L897.59,162.39 L899.35,162.37 L901.12,162.38 L902.88,162.41 L904.64,162.47 L906.40,162.57 L908.16,162.69 L909.91,162.84 L911.66,163.02 L913.41,163.23 L915.15,163.47 L916.88,163.74 L918.62,164.04 L920.34,164.36 L922.06,164.72 L923.78,165.10 L925.48,165.51 L927.18,165.94 L928.88,166.41 L930.56,166.90 L932.24,167.42 L933.91,167.97 L935.57,168.55 L937.22,169.15 L938.87,169.78 L940.50,170.43 L942.12,171.11 L943.73,171.82 L945.33,172.55 L946.92,173.31 L948.50,174.10 L950.07,174.91 L951.62,175.75 L953.16,176.61 L954.69,177.50 L956.20,178.41 L957.70,179.35 L959.19,180.32 L960.66,181.30 L962.11,182.32 L963.55,183.35 L964.98,184.41 L966.39,185.50 L967.78,186.61 L969.15,187.74 L970.51,188.90 L971.85,190.08 L973.18,191.28 L974.49,192.50 L975.78,193.74 L977.06,195.00 L978.32,196.28 L979.56,197.58 L980.79,198.90 L982.01,200.24 L983.20,201.59 L984.39,202.96 L985.56,204.34 L986.71,205.74 L987.85,207.15 L988.97,208.57 L990.09,210.01 L991.18,211.46 L992.26,212.92 L993.33,214.40 L994.39,215.88 L995.43,217.37 L996.45,218.87 L997.47,220.38 L998.47,221.90 L999.46,223.42 L1000.43,224.95 L1001.40,226.48 L1002.35,228.02 L1003.29,229.57 L1004.21,231.12 L1005.13,232.68 L1006.03,234.24 L1006.92,235.80 L1007.80,237.38 L1008.67,238.95 L1009.53,240.53 L1010.38,242.12 L1011.22,243.71 L1012.05,245.30 L1012.87,246.90 L1013.68,248.50 L1014.49,250.10 L1015.28,251.71 L1016.07,253.32 L1016.84,254.94 L1017.61,256.56 L1018.37,258.18 L1019.12,259.81 L1019.87,261.44 L1020.61,263.07 L1021.34,264.71 L1022.07,266.34 L1022.78,267.98 L1023.50,269.63 L1024.20,271.27 L1024.90,272.92 L1025.60,274.57 L1026.29,276.22 L1026.98,277.87 L1027.66,279.53 L1028.33,281.19 L1029.00,282.85 L1029.67,284.51 L1030.34,286.17 L1031.00,287.83 L1031.66,289.49 L1032.31,291.16 L1032.96,292.83 L1033.61,294.49 L1034.26,296.16 L1034.90,297.83 L1035.55,299.50 L1036.19,301.17 L1036.83,302.83 L1037.47,304.50 L1038.10,306.17 L1038.74,307.84 L1039.37,309.51 L1040.00,311.19 L1040.63,312.86 L1041.26,314.53 L1041.89,316.20 L1042.51,317.87 L1043.13,319.55 L1043.75,321.22 L1044.37,322.90 L1044.98,324.57 L1045.60,326.25 L1046.21,327.92 L1046.82,329.60 L1047.42,331.28 L1048.03,332.95 L1048.63,334.63 L1049.23,336.31 L1049.82,337.99 L1050.42,339.67 L1051.01,341.36 L1051.60,343.04 L1052.18,344.72 L1052.76,346.41 L1053.34,348.09 L1053.92,349.78 L1054.49,351.46 L1055.06,353.15 L1055.63,354.84 L1056.19,356.53 L1056.75,358.22 L1057.31,359.91 L1057.87,361.61 L1058.42,363.30 L1058.96,365.00 L1059.51,366.69 L1060.05,368.39 L1060.58,370.09 L1061.12,371.79 L1061.65,373.49 L1062.17,375.19 L1062.70,376.89 L1063.21,378.60 L1063.73,380.30 L1064.24,382.01 L1064.74,383.72 L1065.25,385.42 L1065.74,387.14 L1066.24,388.85 L1066.73,390.56 L1067.21,392.28 L1067.70,393.99 L1068.17,395.71 L1068.64,397.43 L1069.11,399.15 L1069.58,400.87 L1070.04,402.59 L1070.49,404.32 L1070.94,406.05 L1071.38,407.77 L1071.82,409.50 L1072.26,411.24 L1072.69,412.97 L1073.12,414.70 L1073.54,416.44 L1073.95,418.18 L1074.36,419.92 L1074.77,421.66 L1075.17,423.40 L1075.56,425.15 L1075.95,426.89 L1076.34,428.64 L1076.72,430.39 L1077.09,432.15 L1077.46,433.90 L1077.82,435.66 L1078.18,437.41 L1078.53,439.17 L1078.88,440.94 L1079.22,442.70 L1079.55,444.47 L1079.88,446.23 L1080.20,448.00 L1081.28,453.91" stroke="#e8192c" stroke-width="4.3" stroke-dasharray="20.8 12.5" stroke-dashoffset="-0.63"/>
</g>
<text><tspan x="722.50" y="489.20" style="font-size:41.50px;" textLength="20.80" lengthAdjust="spacingAndGlyphs">0</tspan></text>
<text><tspan x="809.64" y="489.20" style="font-size:41.50px;" textLength="52.27" lengthAdjust="spacingAndGlyphs">0.2</tspan></text>
<text><tspan x="909.13" y="489.20" style="font-size:41.50px;" textLength="50.91" lengthAdjust="spacingAndGlyphs">0.4</tspan></text>
<text><tspan x="1008.58" y="489.20" style="font-size:41.50px;" textLength="50.91" lengthAdjust="spacingAndGlyphs">0.6</tspan></text>
<text><tspan x="1108.01" y="489.20" style="font-size:41.50px;" textLength="51.58" lengthAdjust="spacingAndGlyphs">0.8</tspan></text>
<text><tspan x="651.07" y="144.80" style="font-size:41.50px;" textLength="37.50" lengthAdjust="spacingAndGlyphs">10</tspan><tspan x="687.71" y="131.90" style="font-size:29.30px;" textLength="19.13" lengthAdjust="spacingAndGlyphs">−</tspan><tspan x="705.26" y="130.00" style="font-size:29.30px;" textLength="15.05" lengthAdjust="spacingAndGlyphs">2</tspan></text>
<text><tspan x="651.07" y="252.30" style="font-size:41.50px;" textLength="37.50" lengthAdjust="spacingAndGlyphs">10</tspan><tspan x="687.71" y="239.40" style="font-size:29.30px;" textLength="19.13" lengthAdjust="spacingAndGlyphs">−</tspan><tspan x="704.79" y="237.50" style="font-size:29.30px;" textLength="15.05" lengthAdjust="spacingAndGlyphs">3</tspan></text>
<text><tspan x="651.07" y="359.80" style="font-size:41.50px;" textLength="37.50" lengthAdjust="spacingAndGlyphs">10</tspan><tspan x="687.71" y="346.90" style="font-size:29.30px;" textLength="19.13" lengthAdjust="spacingAndGlyphs">−</tspan><tspan x="705.78" y="345.00" style="font-size:29.30px;" textLength="13.55" lengthAdjust="spacingAndGlyphs">4</tspan></text>
<text transform="rotate(-90)"><tspan x="-359.97" y="644.87" style="font-size:40.06px;font-family:"DejaVu Sans", "DejaVu Serif", sans-serif;" textLength="16.31" lengthAdjust="spacingAndGlyphs" stroke="#fff" stroke-width="1.1">⟨</tspan><tspan x="-345.32" y="643.00" style="font-size:42.30px;">Δ</tspan><tspan x="-318.42" y="643.40" style="font-size:42.30px;">α</tspan><tspan x="-291.92" y="618.70" style="font-size:29.30px;">2</tspan><tspan x="-293.34" y="650.50" style="font-size:29.30px;font-style:italic;">L</tspan><tspan x="-276.40" y="644.87" style="font-size:40.06px;font-family:"DejaVu Sans", "DejaVu Serif", sans-serif;" textLength="16.48" lengthAdjust="spacingAndGlyphs" stroke="#fff" stroke-width="1.1">⟩</tspan><tspan x="-260.30" y="649.69" style="font-size:51.78px;" textLength="16.60" lengthAdjust="spacingAndGlyphs" stroke="#fff" stroke-width="0.5">/</tspan><tspan x="-240.45" y="643.98" style="font-size:41.36px;" textLength="10.37" lengthAdjust="spacingAndGlyphs">[</tspan><tspan x="-228.96" y="643.00" style="font-size:42.30px;">н</tspan><tspan x="-205.56" y="643.00" style="font-size:42.30px;">Т</tspan><tspan x="-178.70" y="643.00" style="font-size:42.30px;">л</tspan><tspan x="-158.67" y="643.98" style="font-size:41.36px;" textLength="11.37" lengthAdjust="spacingAndGlyphs">]</tspan><tspan x="-145.42" y="628.40" style="font-size:29.30px;">2</tspan></text>
<text><tspan x="894.96" y="529.00" style="font-size:42.00px;font-style:italic;">z</tspan><tspan x="910.24" y="535.00" style="font-size:29.30px;">p</tspan><tspan x="926.70" y="535.29" style="font-size:51.64px;" textLength="17.09" lengthAdjust="spacingAndGlyphs" stroke="#fff" stroke-width="0.5">/</tspan><tspan x="945.76" y="529.00" style="font-size:42.00px;font-style:italic;">R</tspan><tspan x="971.84" y="537.70" style="font-size:29.30px;">E</tspan></text>
<text><tspan x="988.19" y="107.80" style="font-size:32.50px;font-style:italic;">k</tspan><tspan x="1005.10" y="114.20" style="font-size:22.30px;">0</tspan><tspan x="1016.08" y="107.80" style="font-size:32.50px;font-style:italic;">l</tspan><tspan x="1025.05" y="112.60" style="font-size:22.30px;">p</tspan> <tspan x="1041.44" y="107.80" style="font-size:32.50px;" textLength="24.78" lengthAdjust="spacingAndGlyphs">=</tspan> <tspan x="1073.11" y="107.80" style="font-size:32.50px;" textLength="15.78" lengthAdjust="spacingAndGlyphs">6</tspan></text>
</g>
<g id="panel3">
<defs><clipPath id="clip2"><rect x="1290.5" y="49.50" width="453.50" height="400.10"/></clipPath></defs>
<path d="M1293.5,49.5 V448.4 H1741.0" fill="none" stroke="#1a1718" stroke-width="2.4" stroke-linecap="butt" stroke-linejoin="miter"/>
<path d="M1293.30,448.4 v-12.5 M1393.02,448.4 v-12.5 M1492.74,448.4 v-12.5 M1592.46,448.4 v-12.5 M1692.18,448.4 v-12.5 M1293.5,415.37 h7.1 M1293.5,396.46 h7.1 M1293.5,383.04 h7.1 M1293.5,372.63 h7.1 M1293.5,364.13 h7.1 M1293.5,356.94 h7.1 M1293.5,350.71 h7.1 M1293.5,345.21 h7.1 M1293.5,340.30 h12.2 M1293.5,307.97 h7.1 M1293.5,289.06 h7.1 M1293.5,275.64 h7.1 M1293.5,265.23 h7.1 M1293.5,256.73 h7.1 M1293.5,249.54 h7.1 M1293.5,243.31 h7.1 M1293.5,237.81 h7.1 M1293.5,232.90 h12.2 M1293.5,200.57 h7.1 M1293.5,181.66 h7.1 M1293.5,168.24 h7.1 M1293.5,157.83 h7.1 M1293.5,149.33 h7.1 M1293.5,142.14 h7.1 M1293.5,135.91 h7.1 M1293.5,130.41 h7.1 M1293.5,125.50 h12.2 M1293.5,93.17 h7.1 M1293.5,74.26 h7.1 M1293.5,60.84 h7.1" fill="none" stroke="#1a1718" stroke-width="1.9"/>
<line x1="1334.6" y1="50.0" x2="1334.6" y2="448.4" stroke="#1a1718" stroke-width="2"/>
<g clip-path="url(#clip2)" fill="none" stroke-linejoin="round">
<line x1="1465.25" y1="57.2" x2="1465.25" y2="451.4" stroke="#e8192c" stroke-width="4.3" stroke-dasharray="25.2 8.3 4.3 8.05"/>
<path d="M1293.59,212.34 L1295.09,212.34 L1296.58,212.35 L1298.08,212.36 L1299.58,212.38 L1301.08,212.40 L1302.58,212.42 L1304.08,212.45 L1305.58,212.49 L1307.08,212.53 L1308.58,212.57 L1310.08,212.61 L1311.58,212.67 L1313.08,212.72 L1314.58,212.78 L1316.08,212.85 L1317.58,212.91 L1319.09,212.99 L1320.59,213.06 L1322.09,213.14 L1323.60,213.23 L1325.10,213.32 L1326.60,213.41 L1328.11,213.51 L1329.61,213.61 L1331.12,213.72 L1332.62,213.83 L1334.13,213.95 L1335.63,214.06 L1337.14,214.19 L1338.65,214.32 L1340.15,214.45 L1341.66,214.58 L1343.17,214.72 L1344.67,214.87 L1346.18,215.02 L1347.69,215.17 L1349.20,215.33 L1350.70,215.49 L1352.21,215.66 L1353.72,215.83 L1355.22,216.01 L1356.73,216.19 L1358.23,216.37 L1359.74,216.56 L1361.24,216.76 L1362.75,216.96 L1364.25,217.16 L1365.75,217.37 L1367.26,217.59 L1368.76,217.81 L1370.26,218.03 L1371.76,218.26 L1373.26,218.50 L1374.76,218.74 L1376.25,218.98 L1377.75,219.24 L1379.25,219.49 L1380.74,219.75 L1382.23,220.02 L1383.73,220.29 L1385.22,220.57 L1386.71,220.85 L1388.19,221.14 L1389.68,221.43 L1391.17,221.73 L1392.65,222.04 L1394.13,222.35 L1395.61,222.66 L1397.09,222.99 L1398.57,223.31 L1400.05,223.65 L1401.52,223.99 L1402.99,224.33 L1404.46,224.68 L1405.93,225.04 L1407.40,225.40 L1408.86,225.77 L1410.32,226.15 L1411.79,226.53 L1413.24,226.91 L1414.70,227.31 L1416.15,227.71 L1417.60,228.11 L1419.05,228.53 L1420.50,228.94 L1421.94,229.37 L1423.39,229.80 L1424.82,230.24 L1426.26,230.68 L1427.70,231.13 L1429.13,231.59 L1430.56,232.05 L1431.98,232.52 L1433.40,233.00 L1434.82,233.49 L1436.24,233.98 L1437.65,234.47 L1439.07,234.98 L1440.47,235.49 L1441.88,236.01 L1443.28,236.53 L1444.68,237.06 L1446.07,237.60 L1447.47,238.15 L1448.85,238.70 L1450.24,239.26 L1451.62,239.83 L1453.00,240.40 L1454.37,240.98 L1455.75,241.57 L1457.11,242.17 L1458.48,242.77 L1459.84,243.38 L1461.19,244.00 L1462.54,244.63 L1463.89,245.26 L1465.24,245.90 L1466.58,246.55 L1467.91,247.21 L1469.25,247.87 L1470.57,248.54 L1471.90,249.22 L1473.22,249.90 L1474.54,250.60 L1475.85,251.30 L1477.16,252.01 L1478.46,252.72 L1479.76,253.44 L1481.06,254.17 L1482.35,254.91 L1483.64,255.65 L1484.92,256.40 L1486.20,257.16 L1487.48,257.92 L1488.75,258.69 L1490.02,259.47 L1491.28,260.26 L1492.54,261.05 L1493.80,261.84 L1495.05,262.65 L1496.30,263.46 L1497.55,264.28 L1498.79,265.10 L1500.02,265.93 L1501.25,266.77 L1502.48,267.61 L1503.71,268.46 L1504.93,269.32 L1506.14,270.18 L1507.35,271.05 L1508.56,271.93 L1509.77,272.81 L1510.96,273.70 L1512.16,274.59 L1513.35,275.49 L1514.54,276.40 L1515.72,277.31 L1516.90,278.23 L1518.08,279.15 L1519.25,280.08 L1520.42,281.01 L1521.58,281.96 L1522.74,282.90 L1523.89,283.85 L1525.05,284.81 L1526.19,285.78 L1527.34,286.75 L1528.47,287.72 L1529.61,288.70 L1530.74,289.69 L1531.87,290.68 L1532.99,291.67 L1534.11,292.67 L1535.22,293.68 L1536.33,294.69 L1537.44,295.71 L1538.54,296.73 L1539.64,297.76 L1540.73,298.79 L1541.82,299.83 L1542.91,300.87 L1543.99,301.92 L1545.07,302.97 L1546.14,304.03 L1547.21,305.09 L1548.28,306.16 L1549.34,307.23 L1550.40,308.31 L1551.45,309.39 L1552.50,310.48 L1553.54,311.57 L1554.58,312.66 L1555.62,313.76 L1556.65,314.87 L1557.68,315.97 L1558.71,317.09 L1559.73,318.20 L1560.74,319.32 L1561.75,320.45 L1562.76,321.58 L1563.77,322.71 L1564.77,323.85 L1565.76,324.99 L1566.75,326.14 L1567.74,327.29 L1568.72,328.44 L1569.70,329.60 L1570.68,330.76 L1571.65,331.93 L1572.62,333.10 L1573.58,334.27 L1574.54,335.45 L1575.49,336.63 L1576.44,337.81 L1577.39,339.00 L1578.33,340.19 L1579.27,341.39 L1580.20,342.59 L1581.13,343.79 L1582.05,344.99 L1582.98,346.20 L1583.89,347.41 L1584.81,348.63 L1585.71,349.85 L1586.62,351.07 L1587.52,352.29 L1588.42,353.52 L1589.31,354.75 L1590.20,355.98 L1591.08,357.22 L1591.96,358.46 L1592.83,359.70 L1593.71,360.95 L1594.57,362.20 L1595.44,363.45 L1596.29,364.70 L1597.15,365.96 L1598.00,367.22 L1598.85,368.48 L1599.69,369.74 L1600.53,371.01 L1601.36,372.28 L1602.19,373.55 L1603.01,374.83 L1603.84,376.10 L1604.65,377.38 L1605.46,378.66 L1606.27,379.95 L1607.08,381.23 L1607.88,382.52 L1608.67,383.81 L1609.47,385.10 L1610.25,386.39 L1611.04,387.69 L1611.82,388.99 L1612.59,390.29 L1613.36,391.59 L1614.13,392.89 L1614.89,394.20 L1615.65,395.50 L1616.40,396.81 L1617.15,398.12 L1617.90,399.44 L1618.64,400.75 L1619.38,402.06 L1620.11,403.38 L1620.84,404.70 L1621.56,406.02 L1622.28,407.34 L1623.00,408.66 L1623.71,409.98 L1624.42,411.31 L1625.12,412.64 L1625.82,413.96 L1626.52,415.29 L1627.21,416.62 L1627.89,417.95 L1628.57,419.28 L1629.25,420.61 L1629.93,421.95 L1630.60,423.28 L1631.26,424.62 L1631.92,425.95 L1632.58,427.29 L1633.23,428.63 L1633.88,429.96 L1634.52,431.30 L1635.16,432.64 L1635.80,433.98 L1636.43,435.32 L1637.06,436.66 L1637.68,438.00 L1638.30,439.34 L1638.91,440.69 L1639.52,442.03 L1640.13,443.37 L1640.73,444.71 L1641.33,446.06 L1641.92,447.40 L1644.34,452.89" stroke="#a6289b" stroke-width="4.3" stroke-dasharray="7.9 4.6" stroke-dashoffset="-11.27"/>
<path d="M1293.55,210.63 L1295.24,210.64 L1296.94,210.64 L1298.64,210.64 L1300.34,210.64 L1302.04,210.64 L1303.74,210.64 L1305.44,210.65 L1307.15,210.65 L1308.85,210.65 L1310.55,210.65 L1312.26,210.65 L1313.96,210.65 L1315.67,210.66 L1317.37,210.66 L1319.08,210.66 L1320.79,210.66 L1322.50,210.66 L1324.21,210.66 L1325.92,210.66 L1327.63,210.66 L1329.35,210.66 L1331.06,210.66 L1332.77,210.65 L1334.49,210.65 L1336.21,210.65 L1337.92,210.65 L1339.64,210.64 L1341.36,210.64 L1343.08,210.63 L1344.80,210.63 L1346.52,210.62 L1348.25,210.62 L1349.97,210.62 L1351.69,210.61 L1353.42,210.61 L1355.14,210.61 L1356.86,210.61 L1358.59,210.61 L1360.32,210.61 L1362.04,210.61 L1363.77,210.62 L1365.49,210.62 L1367.22,210.63 L1368.95,210.64 L1370.67,210.65 L1372.40,210.67 L1374.13,210.68 L1375.85,210.70 L1377.58,210.72 L1379.30,210.74 L1381.03,210.77 L1382.75,210.80 L1384.48,210.83 L1386.20,210.86 L1387.93,210.90 L1389.65,210.94 L1391.37,210.99 L1393.10,211.04 L1394.82,211.09 L1396.54,211.14 L1398.26,211.20 L1399.98,211.27 L1401.70,211.34 L1403.41,211.41 L1405.13,211.49 L1406.85,211.57 L1408.56,211.65 L1410.27,211.75 L1411.99,211.84 L1413.70,211.94 L1415.41,212.05 L1417.12,212.16 L1418.82,212.28 L1420.53,212.41 L1422.23,212.54 L1423.94,212.67 L1425.64,212.81 L1427.34,212.96 L1429.03,213.11 L1430.73,213.27 L1432.42,213.44 L1434.12,213.62 L1435.81,213.80 L1437.50,213.98 L1439.18,214.18 L1440.87,214.38 L1442.55,214.59 L1444.23,214.81 L1445.91,215.03 L1447.59,215.26 L1449.26,215.50 L1450.93,215.75 L1452.60,216.01 L1454.27,216.27 L1455.94,216.54 L1457.60,216.82 L1459.26,217.11 L1460.92,217.41 L1462.57,217.72 L1464.22,218.04 L1465.87,218.36 L1467.52,218.70 L1469.16,219.04 L1470.80,219.39 L1472.44,219.76 L1474.07,220.13 L1475.71,220.51 L1477.33,220.91 L1478.96,221.31 L1480.58,221.73 L1482.20,222.15 L1483.82,222.58 L1485.43,223.03 L1487.04,223.49 L1488.65,223.95 L1490.25,224.43 L1491.85,224.92 L1493.44,225.42 L1495.03,225.93 L1496.62,226.46 L1498.20,226.99 L1499.79,227.54 L1501.36,228.10 L1502.93,228.67 L1504.50,229.26 L1506.07,229.85 L1507.63,230.46 L1509.19,231.08 L1510.74,231.70 L1512.29,232.35 L1513.83,233.00 L1515.37,233.66 L1516.91,234.34 L1518.44,235.03 L1519.97,235.72 L1521.49,236.43 L1523.01,237.15 L1524.52,237.88 L1526.03,238.62 L1527.54,239.38 L1529.04,240.14 L1530.53,240.91 L1532.02,241.70 L1533.51,242.49 L1534.99,243.30 L1536.47,244.12 L1537.94,244.94 L1539.40,245.78 L1540.87,246.62 L1542.32,247.48 L1543.77,248.35 L1545.22,249.23 L1546.66,250.11 L1548.10,251.01 L1549.53,251.91 L1550.96,252.83 L1552.38,253.76 L1553.79,254.69 L1555.20,255.64 L1556.60,256.59 L1558.00,257.55 L1559.40,258.53 L1560.78,259.51 L1562.16,260.50 L1563.54,261.50 L1564.91,262.51 L1566.28,263.53 L1567.63,264.55 L1568.99,265.59 L1570.33,266.63 L1571.68,267.69 L1573.01,268.75 L1574.34,269.82 L1575.66,270.90 L1576.98,271.99 L1578.29,273.08 L1579.59,274.18 L1580.89,275.30 L1582.18,276.42 L1583.47,277.54 L1584.75,278.68 L1586.02,279.82 L1587.29,280.97 L1588.55,282.13 L1589.80,283.30 L1591.05,284.48 L1592.29,285.66 L1593.52,286.85 L1594.75,288.04 L1595.97,289.25 L1597.18,290.46 L1598.38,291.68 L1599.58,292.91 L1600.77,294.14 L1601.96,295.38 L1603.14,296.63 L1604.31,297.88 L1605.47,299.14 L1606.63,300.41 L1607.78,301.68 L1608.92,302.96 L1610.05,304.25 L1611.18,305.54 L1612.30,306.84 L1613.41,308.15 L1614.52,309.46 L1615.61,310.78 L1616.70,312.10 L1617.79,313.44 L1618.86,314.77 L1619.93,316.11 L1620.99,317.46 L1622.04,318.82 L1623.08,320.18 L1624.12,321.54 L1625.14,322.91 L1626.16,324.29 L1627.17,325.67 L1628.18,327.06 L1629.18,328.45 L1630.17,329.85 L1631.15,331.25 L1632.13,332.66 L1633.09,334.07 L1634.06,335.48 L1635.01,336.91 L1635.96,338.33 L1636.90,339.76 L1637.83,341.20 L1638.76,342.64 L1639.68,344.08 L1640.60,345.53 L1641.50,346.98 L1642.41,348.43 L1643.30,349.89 L1644.19,351.36 L1645.08,352.82 L1645.95,354.29 L1646.83,355.77 L1647.69,357.24 L1648.55,358.72 L1649.41,360.21 L1650.26,361.69 L1651.10,363.18 L1651.94,364.68 L1652.77,366.17 L1653.60,367.67 L1654.42,369.17 L1655.24,370.68 L1656.06,372.19 L1656.86,373.70 L1657.67,375.21 L1658.47,376.72 L1659.26,378.24 L1660.05,379.76 L1660.83,381.28 L1661.62,382.80 L1662.39,384.32 L1663.16,385.85 L1663.93,387.38 L1664.70,388.91 L1665.46,390.44 L1666.21,391.97 L1666.97,393.51 L1667.71,395.04 L1668.46,396.58 L1669.20,398.12 L1669.94,399.65 L1670.67,401.19 L1671.41,402.73 L1672.13,404.28 L1672.86,405.82 L1673.58,407.36 L1674.30,408.90 L1675.02,410.45 L1675.73,411.99 L1676.44,413.53 L1677.15,415.08 L1677.85,416.62 L1678.56,418.17 L1679.26,419.71 L1679.96,421.25 L1680.65,422.80 L1681.35,424.34 L1682.04,425.88 L1682.73,427.43 L1683.42,428.97 L1684.10,430.51 L1684.79,432.05 L1685.47,433.59 L1686.15,435.13 L1686.83,436.67 L1687.51,438.20 L1688.19,439.74 L1688.87,441.27 L1689.54,442.80 L1690.22,444.33 L1690.89,445.86 L1691.56,447.39 L1693.98,452.88" stroke="#213b9b" stroke-width="4.2"/>
<path d="M1293.63,235.25 L1295.45,235.28 L1297.27,235.29 L1299.09,235.31 L1300.91,235.32 L1302.74,235.32 L1304.56,235.32 L1306.38,235.32 L1308.20,235.31 L1310.02,235.30 L1311.84,235.28 L1313.67,235.26 L1315.49,235.23 L1317.31,235.20 L1319.14,235.16 L1320.96,235.12 L1322.78,235.08 L1324.61,235.03 L1326.43,234.97 L1328.26,234.91 L1330.08,234.84 L1331.91,234.77 L1333.74,234.69 L1335.56,234.61 L1337.39,234.52 L1339.22,234.42 L1341.05,234.33 L1342.88,234.22 L1344.70,234.11 L1346.53,234.00 L1348.36,233.88 L1350.19,233.76 L1352.02,233.63 L1353.85,233.50 L1355.69,233.37 L1357.52,233.23 L1359.35,233.09 L1361.18,232.94 L1363.01,232.80 L1364.84,232.65 L1366.68,232.50 L1368.51,232.34 L1370.34,232.18 L1372.17,232.02 L1374.01,231.86 L1375.84,231.70 L1377.67,231.54 L1379.51,231.37 L1381.34,231.20 L1383.17,231.04 L1385.01,230.87 L1386.84,230.70 L1388.67,230.53 L1390.51,230.36 L1392.34,230.19 L1394.17,230.02 L1396.01,229.85 L1397.84,229.68 L1399.67,229.51 L1401.51,229.34 L1403.34,229.18 L1405.17,229.01 L1407.01,228.85 L1408.84,228.69 L1410.67,228.52 L1412.50,228.37 L1414.34,228.21 L1416.17,228.06 L1418.00,227.90 L1419.83,227.75 L1421.66,227.61 L1423.49,227.46 L1425.32,227.32 L1427.16,227.19 L1428.99,227.05 L1430.82,226.93 L1432.64,226.80 L1434.47,226.68 L1436.30,226.56 L1438.13,226.45 L1439.96,226.34 L1441.79,226.24 L1443.61,226.14 L1445.44,226.05 L1447.27,225.96 L1449.09,225.88 L1450.92,225.80 L1452.74,225.73 L1454.57,225.67 L1456.39,225.61 L1458.21,225.56 L1460.04,225.52 L1461.86,225.48 L1463.68,225.45 L1465.50,225.42 L1467.32,225.41 L1469.14,225.40 L1470.96,225.40 L1472.78,225.41 L1474.60,225.42 L1476.41,225.44 L1478.23,225.48 L1480.04,225.52 L1481.86,225.57 L1483.67,225.63 L1485.49,225.69 L1487.30,225.77 L1489.11,225.86 L1490.92,225.95 L1492.73,226.06 L1494.54,226.18 L1496.35,226.31 L1498.16,226.44 L1499.96,226.59 L1501.77,226.75 L1503.57,226.92 L1505.38,227.10 L1507.18,227.29 L1508.98,227.50 L1510.78,227.71 L1512.58,227.94 L1514.38,228.18 L1516.18,228.44 L1517.98,228.70 L1519.77,228.98 L1521.57,229.27 L1523.36,229.57 L1525.16,229.89 L1526.95,230.22 L1528.74,230.56 L1530.53,230.92 L1532.31,231.29 L1534.10,231.67 L1535.88,232.07 L1537.66,232.48 L1539.44,232.91 L1541.21,233.35 L1542.98,233.80 L1544.75,234.27 L1546.51,234.75 L1548.27,235.25 L1550.03,235.76 L1551.78,236.29 L1553.53,236.83 L1555.27,237.38 L1557.01,237.95 L1558.74,238.53 L1560.47,239.13 L1562.19,239.75 L1563.91,240.37 L1565.62,241.02 L1567.32,241.68 L1569.02,242.35 L1570.71,243.04 L1572.39,243.74 L1574.07,244.46 L1575.74,245.20 L1577.40,245.95 L1579.05,246.71 L1580.69,247.50 L1582.33,248.29 L1583.96,249.11 L1585.58,249.94 L1587.19,250.78 L1588.79,251.64 L1590.38,252.52 L1591.96,253.42 L1593.53,254.33 L1595.09,255.25 L1596.65,256.20 L1598.19,257.15 L1599.72,258.13 L1601.24,259.12 L1602.74,260.13 L1604.24,261.16 L1605.73,262.20 L1607.20,263.26 L1608.66,264.33 L1610.12,265.42 L1611.56,266.52 L1612.99,267.64 L1614.42,268.77 L1615.83,269.92 L1617.23,271.08 L1618.62,272.25 L1620.00,273.43 L1621.37,274.63 L1622.74,275.84 L1624.09,277.06 L1625.43,278.30 L1626.77,279.54 L1628.09,280.80 L1629.41,282.07 L1630.71,283.34 L1632.01,284.63 L1633.30,285.93 L1634.58,287.24 L1635.85,288.55 L1637.11,289.88 L1638.37,291.21 L1639.61,292.55 L1640.85,293.90 L1642.08,295.26 L1643.30,296.63 L1644.52,298.00 L1645.73,299.38 L1646.92,300.76 L1648.12,302.15 L1649.30,303.55 L1650.48,304.95 L1651.65,306.36 L1652.81,307.78 L1653.96,309.20 L1655.11,310.63 L1656.25,312.06 L1657.38,313.50 L1658.51,314.95 L1659.63,316.40 L1660.74,317.85 L1661.85,319.32 L1662.94,320.78 L1664.03,322.25 L1665.12,323.73 L1666.20,325.21 L1667.27,326.70 L1668.33,328.19 L1669.39,329.69 L1670.44,331.19 L1671.48,332.70 L1672.52,334.21 L1673.55,335.73 L1674.57,337.25 L1675.59,338.78 L1676.60,340.31 L1677.61,341.84 L1678.61,343.38 L1679.60,344.92 L1680.59,346.47 L1681.57,348.02 L1682.54,349.57 L1683.51,351.13 L1684.47,352.70 L1685.43,354.26 L1686.38,355.83 L1687.33,357.41 L1688.26,358.98 L1689.20,360.56 L1690.13,362.15 L1691.05,363.73 L1691.96,365.33 L1692.87,366.92 L1693.78,368.52 L1694.68,370.12 L1695.57,371.72 L1696.46,373.32 L1697.34,374.93 L1698.22,376.54 L1699.10,378.16 L1699.96,379.77 L1700.83,381.39 L1701.68,383.02 L1702.54,384.64 L1703.38,386.27 L1704.22,387.89 L1705.06,389.52 L1705.89,391.16 L1706.72,392.79 L1707.54,394.43 L1708.36,396.07 L1709.18,397.71 L1709.98,399.35 L1710.79,400.99 L1711.59,402.64 L1712.38,404.28 L1713.17,405.93 L1713.96,407.58 L1714.74,409.23 L1715.52,410.88 L1716.29,412.54 L1717.06,414.19 L1717.82,415.84 L1718.58,417.50 L1719.34,419.16 L1720.09,420.81 L1720.84,422.47 L1721.58,424.13 L1722.32,425.79 L1723.06,427.45 L1723.79,429.11 L1724.52,430.77 L1725.25,432.43 L1725.97,434.09 L1726.69,435.75 L1727.40,437.41 L1728.11,439.07 L1728.82,440.73 L1729.52,442.39 L1730.22,444.05 L1730.92,445.71 L1731.61,447.37 L1733.92,452.91" stroke="#e8192c" stroke-width="4.3" stroke-dasharray="20.8 12.5" stroke-dashoffset="-33.20"/>
</g>
<text><tspan x="1283.50" y="488.30" style="font-size:41.50px;" textLength="20.80" lengthAdjust="spacingAndGlyphs">0</tspan></text>
<text><tspan x="1370.91" y="488.30" style="font-size:41.50px;" textLength="52.27" lengthAdjust="spacingAndGlyphs">0.2</tspan></text>
<text><tspan x="1470.67" y="488.30" style="font-size:41.50px;" textLength="50.91" lengthAdjust="spacingAndGlyphs">0.4</tspan></text>
<text><tspan x="1570.39" y="488.30" style="font-size:41.50px;" textLength="50.91" lengthAdjust="spacingAndGlyphs">0.6</tspan></text>
<text><tspan x="1670.09" y="488.30" style="font-size:41.50px;" textLength="51.58" lengthAdjust="spacingAndGlyphs">0.8</tspan></text>
<text><tspan x="1213.37" y="144.40" style="font-size:41.50px;" textLength="37.50" lengthAdjust="spacingAndGlyphs">10</tspan><tspan x="1250.01" y="131.50" style="font-size:29.30px;" textLength="19.13" lengthAdjust="spacingAndGlyphs">−</tspan><tspan x="1267.56" y="129.60" style="font-size:29.30px;" textLength="15.05" lengthAdjust="spacingAndGlyphs">2</tspan></text>
<text><tspan x="1213.37" y="251.80" style="font-size:41.50px;" textLength="37.50" lengthAdjust="spacingAndGlyphs">10</tspan><tspan x="1250.01" y="238.90" style="font-size:29.30px;" textLength="19.13" lengthAdjust="spacingAndGlyphs">−</tspan><tspan x="1267.09" y="237.00" style="font-size:29.30px;" textLength="15.05" lengthAdjust="spacingAndGlyphs">3</tspan></text>
<text><tspan x="1213.37" y="359.20" style="font-size:41.50px;" textLength="37.50" lengthAdjust="spacingAndGlyphs">10</tspan><tspan x="1250.01" y="346.30" style="font-size:29.30px;" textLength="19.13" lengthAdjust="spacingAndGlyphs">−</tspan><tspan x="1268.08" y="344.40" style="font-size:29.30px;" textLength="13.55" lengthAdjust="spacingAndGlyphs">4</tspan></text>
<text transform="rotate(-90)"><tspan x="-359.97" y="1203.97" style="font-size:40.06px;font-family:"DejaVu Sans", "DejaVu Serif", sans-serif;" textLength="16.31" lengthAdjust="spacingAndGlyphs" stroke="#fff" stroke-width="1.1">⟨</tspan><tspan x="-345.32" y="1202.10" style="font-size:42.30px;">Δ</tspan><tspan x="-318.42" y="1202.50" style="font-size:42.30px;">α</tspan><tspan x="-291.92" y="1177.80" style="font-size:29.30px;">2</tspan><tspan x="-293.34" y="1209.60" style="font-size:29.30px;font-style:italic;">L</tspan><tspan x="-276.40" y="1203.97" style="font-size:40.06px;font-family:"DejaVu Sans", "DejaVu Serif", sans-serif;" textLength="16.48" lengthAdjust="spacingAndGlyphs" stroke="#fff" stroke-width="1.1">⟩</tspan><tspan x="-260.30" y="1208.79" style="font-size:51.78px;" textLength="16.60" lengthAdjust="spacingAndGlyphs" stroke="#fff" stroke-width="0.5">/</tspan><tspan x="-240.45" y="1203.08" style="font-size:41.36px;" textLength="10.37" lengthAdjust="spacingAndGlyphs">[</tspan><tspan x="-228.96" y="1202.10" style="font-size:42.30px;">н</tspan><tspan x="-205.56" y="1202.10" style="font-size:42.30px;">Т</tspan><tspan x="-178.70" y="1202.10" style="font-size:42.30px;">л</tspan><tspan x="-158.67" y="1203.08" style="font-size:41.36px;" textLength="11.37" lengthAdjust="spacingAndGlyphs">]</tspan><tspan x="-145.42" y="1187.50" style="font-size:29.30px;">2</tspan></text>
<text><tspan x="1457.76" y="528.60" style="font-size:42.00px;font-style:italic;">z</tspan><tspan x="1473.04" y="534.60" style="font-size:29.30px;">p</tspan><tspan x="1489.50" y="534.89" style="font-size:51.64px;" textLength="17.09" lengthAdjust="spacingAndGlyphs" stroke="#fff" stroke-width="0.5">/</tspan><tspan x="1508.56" y="528.60" style="font-size:42.00px;font-style:italic;">R</tspan><tspan x="1534.64" y="537.30" style="font-size:29.30px;">E</tspan></text>
<text><tspan x="1590.19" y="107.80" style="font-size:32.50px;font-style:italic;">k</tspan><tspan x="1607.10" y="114.20" style="font-size:22.30px;">0</tspan><tspan x="1618.08" y="107.80" style="font-size:32.50px;font-style:italic;">l</tspan><tspan x="1627.05" y="112.60" style="font-size:22.30px;">p</tspan> <tspan x="1643.44" y="107.80" style="font-size:32.50px;" textLength="24.78" lengthAdjust="spacingAndGlyphs">=</tspan> <tspan x="1675.69" y="107.80" style="font-size:32.50px;" textLength="15.05" lengthAdjust="spacingAndGlyphs">3</tspan></text>
</g>
</svg></body></html>
